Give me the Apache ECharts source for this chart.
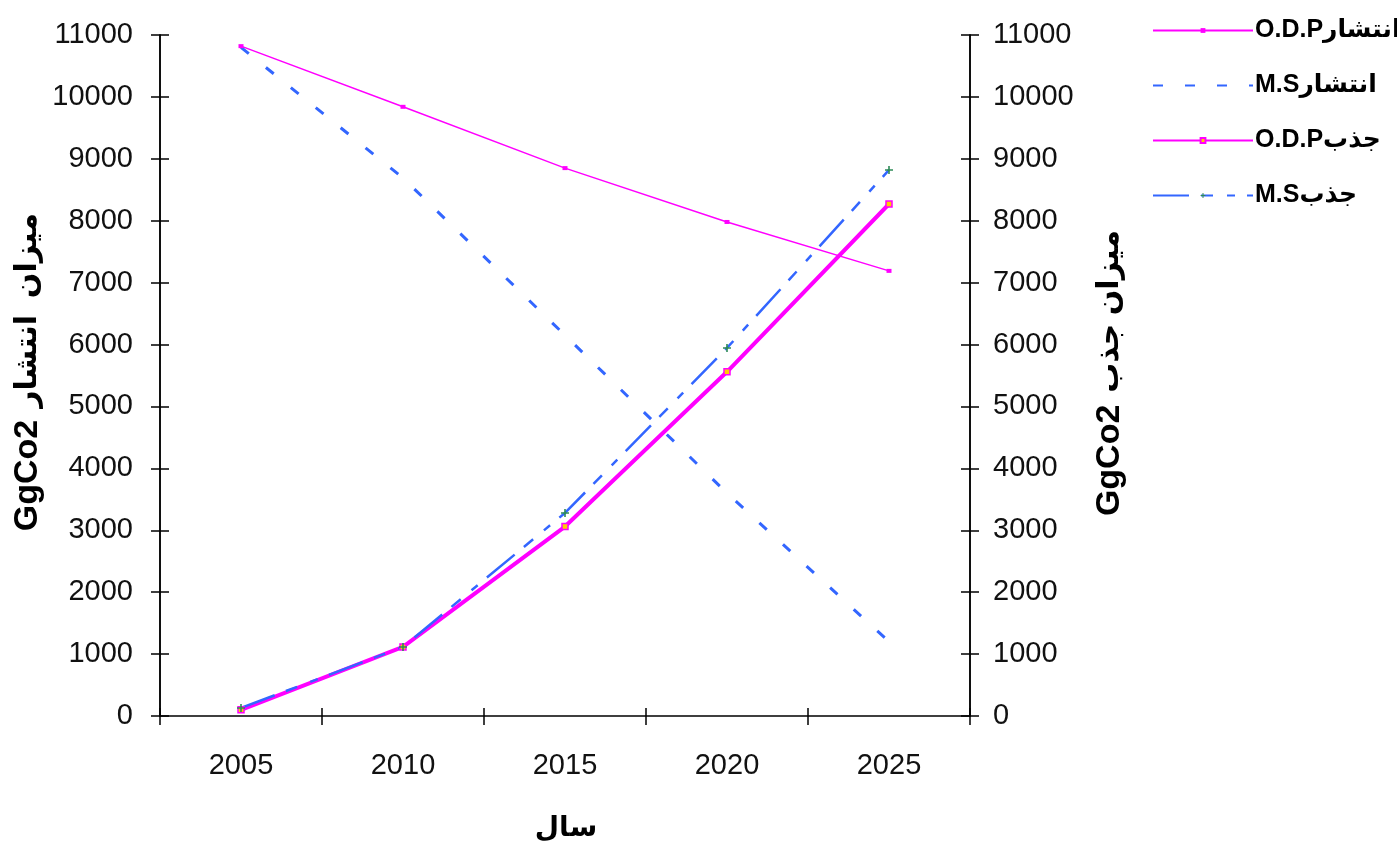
<!DOCTYPE html>
<html>
<head>
<meta charset="utf-8">
<script src="https://cdn.jsdelivr.net/npm/echarts@6/dist/echarts.min.js"></script>
<style>
html,body{margin:0;padding:0;background:#fff;}
#chart{width:1397px;height:846px;}
</style>
</head>
<body>
<div id="chart"></div>
<script>
var years = ['2005', '2010', '2015', '2020', '2025'];
var odpEmission = [10820, 9840, 8850, 7980, 7190];
var msEmission = [10800, 8690, 6150, 3600, 1200];
var odpAbsorption = [100, 1115, 3060, 5560, 8270];
var msAbsorption = [130, 1115, 3280, 5945, 8820];
var seriesNames = ['O.D.Pانتشار', 'M.Sانتشار', 'O.D.Pجذب', 'M.Sجذب'];
var yMin = 0, yMax = 11000, yStep = 1000;

var tickFont = 'Liberation Sans Narrow, Arial Narrow, Liberation Sans, sans-serif';
var boldFont = 'Liberation Sans, Arial, DejaVu Sans, sans-serif';

function yAx(pos, inside, showLabel) {
  return {
    type: 'value', position: pos, min: yMin, max: yMax, interval: yStep,
    splitLine: {show: false},
    axisLine: {show: true, lineStyle: {color: '#000', width: 1.5}},
    axisTick: {show: true, inside: inside, length: 9, lineStyle: {color: '#000', width: 1.5}},
    axisLabel: {show: showLabel, color: '#111', fontFamily: tickFont, fontSize: 29,
                margin: pos === 'left' ? 27 : 23, formatter: function (v) { return String(v); }}
  };
}
var yAxes = [yAx('left', false, true), yAx('right', false, true), yAx('left', true, false), yAx('right', true, false)];

var nameRich = {
  a: {font: 'bold 34px ' + boldFont, fill: '#000'},
  b: {font: 'bold 30px ' + boldFont, fill: '#000', padding: [0, 0, 0, 12]}
};

var chart = echarts.init(document.getElementById('chart'), null, {renderer: 'canvas'});
chart.setOption({
  animation: false,
  backgroundColor: '#fff',
  grid: {left: 160, right: 427, top: 35, bottom: 130, containLabel: false},
  legend: {
    orient: 'vertical', left: 1147, top: 13, itemWidth: 100, itemHeight: 6, itemGap: 30,
    data: seriesNames,
    textStyle: {color: '#000', fontFamily: boldFont, fontWeight: 'bold', fontSize: 25, lineHeight: 24, padding: [0,0,0,-3]}
  },
  xAxis: [{
    type: 'category', data: years, boundaryGap: true, position: 'bottom',
    axisLine: {show: true, onZero: false, lineStyle: {color: '#000', width: 1.5}},
    axisTick: {show: true, interval: 0, length: 9, lineStyle: {color: '#000', width: 1.5}},
    axisLabel: {color: '#111', fontFamily: tickFont, fontSize: 29, margin: 35, interval: 0}
  }, {
    type: 'category', data: years, boundaryGap: true, position: 'bottom',
    axisLine: {show: false, onZero: false},
    axisTick: {show: true, inside: true, interval: 0, length: 8, lineStyle: {color: '#000', width: 1.5}},
    axisLabel: {show: false}
  }],
  yAxis: yAxes,
  graphic: [
    {type: 'text', rotation: Math.PI / 2,
     style: {text: '{a|GgCo2}{b|میزان  انتشار}', rich: nameRich, align: 'center', verticalAlign: 'middle'},
     x: 28, y: 372},
    {type: 'text', rotation: Math.PI / 2,
     style: {text: '{a|GgCo2}{b|میزان جذب}', rich: nameRich, align: 'center', verticalAlign: 'middle'},
     x: 1110, y: 373},
    {type: 'text',
     style: {text: 'سال', font: 'bold 28px ' + boldFont, fill: '#000', align: 'center', verticalAlign: 'middle'},
     x: 566, y: 828}
  ],
  series: [
    {name: seriesNames[0], type: 'line', data: odpEmission, xAxisIndex: 0, yAxisIndex: 0,
     lineStyle: {color: '#ff00ff', width: 1.5, type: 'solid'},
     itemStyle: {color: '#ff00ff'}, symbol: 'rect', symbolSize: [5, 4], showSymbol: true},
    {name: seriesNames[1], type: 'line', data: msEmission, xAxisIndex: 0, yAxisIndex: 0,
     lineStyle: {color: '#3366ff', width: 3, type: [10, 22]},
     itemStyle: {color: 'rgba(0,0,0,0)'}, symbol: 'circle', showSymbol: false},
    {name: seriesNames[2], type: 'line', data: odpAbsorption, xAxisIndex: 0, yAxisIndex: 1,
     lineStyle: {color: '#ff00ff', width: 4, type: 'solid'},
     itemStyle: {color: '#ffcc00', borderColor: '#ff00ff', borderWidth: 1.5}, symbol: 'rect', symbolSize: 6},
    {name: seriesNames[3], type: 'line', data: msAbsorption, xAxisIndex: 0, yAxisIndex: 1,
     lineStyle: {color: '#3366ff', width: 2.5, type: [36, 12, 12, 14, 8, 12]},
     itemStyle: {color: '#2e8b57'}, symbol: 'path://M4,0H6V4H10V6H6V10H4V6H0V4H4Z', symbolSize: 8}
  ]
});
</script>
</body>
</html>
